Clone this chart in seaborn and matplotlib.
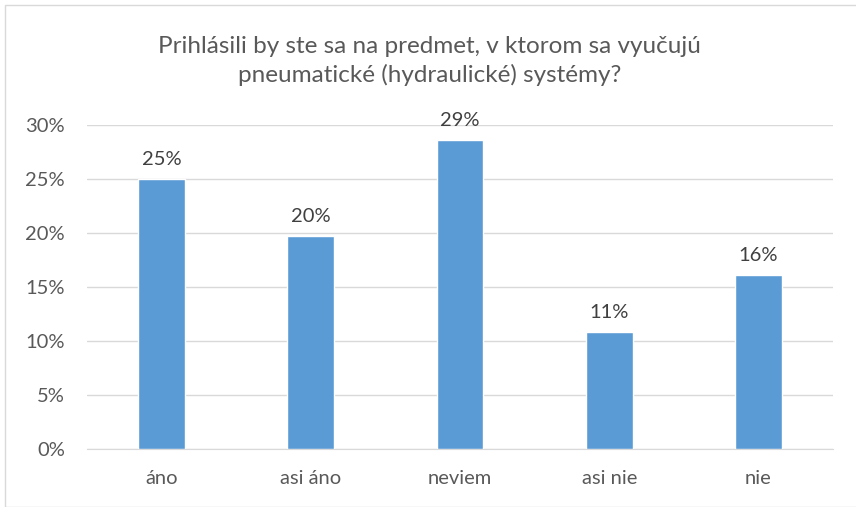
import matplotlib
matplotlib.use("Agg")
import matplotlib.pyplot as plt
import seaborn as sns
import pandas as pd
from matplotlib.patches import Rectangle
from matplotlib.ticker import PercentFormatter

categories = ["áno", "asi áno", "neviem", "asi nie", "nie"]
values = [0.250, 0.197, 0.286, 0.108, 0.161]
labels = ["25%", "20%", "29%", "11%", "16%"]
title = "Prihlásili by ste sa na predmet, v ktorom sa vyučujú\npneumatické (hydraulické) systémy?"

sns.set_style("white")
plt.rcParams['font.family'] = ['Lato', 'DejaVu Sans']
text_color = "#595959"

df = pd.DataFrame({"odpoved": categories, "podiel": values})

fig = plt.figure(figsize=(8.56, 5.07), dpi=100)
ax = fig.add_axes([87 / 856, 1 - 449 / 507, 746 / 856, 324 / 507])

sns.barplot(data=df, x="odpoved", y="podiel", color="#5B9BD5", width=0.315,
            saturation=1, ax=ax, zorder=3)

for bar, lab in zip(ax.patches, labels):
    ax.annotate(lab, (bar.get_x() + bar.get_width() / 2, bar.get_height()),
                xytext=(0, 8), textcoords="offset points", ha="center", va="bottom",
                fontsize=14.5, color="#404040")

ax.set_ylim(0, 0.30)
ax.set_xlim(-0.5, 4.5)
ax.set_yticks([0, 0.05, 0.10, 0.15, 0.20, 0.25, 0.30])
ax.yaxis.set_major_formatter(PercentFormatter(1.0, decimals=0))
ax.grid(axis="y", color="#D9D9D9", linewidth=1, zorder=0)
ax.set_axisbelow(True)
for s in ["top", "right", "left"]:
    ax.spines[s].set_visible(False)
ax.spines["bottom"].set_color("#D9D9D9")
ax.tick_params(axis="both", length=0, labelsize=14.5, labelcolor=text_color)
ax.tick_params(axis="y", pad=16)
ax.tick_params(axis="x", pad=15)
ax.set_xlabel("")
ax.set_ylabel("")

fig.text(0.502, 1 - 61 / 507, title, ha="center", va="center", fontsize=17.5,
         color=text_color, linespacing=1.35)

fig.patches.append(Rectangle((5 / 856, 0), 1, 1 - 5 / 507, transform=fig.transFigure,
                             fill=False, edgecolor="#D9D9D9", linewidth=1))

fig.savefig("out.png", dpi=100)
